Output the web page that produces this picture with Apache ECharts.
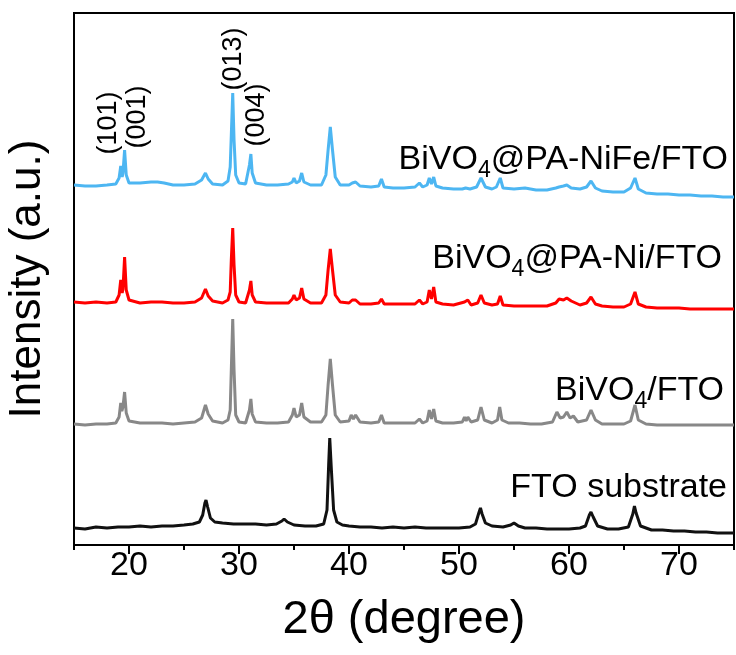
<!DOCTYPE html>
<html>
<head>
<meta charset="utf-8">
<script src="https://cdn.jsdelivr.net/npm/echarts@6/dist/echarts.min.js"></script>
<style>
  html,body{margin:0;padding:0;background:#fff;}
  #main{width:736px;height:655px;}
</style>
</head>
<body>
<div id="main"></div>
<script>
// 2θ / intensity pairs (a.u.), curves already offset as stacked in the figure
var fto = [[15,17],[16,16],[17,18],[18,17],[19,18],[20,18],[21,19],[22,18],[23,19],[24,19],[25,20],[25.8,21],[26.4,23],[26.7,30],[26.9,42],[27.0,45],[27.15,38],[27.4,27],[27.8,23],[28.5,22],[29.5,21],[30.5,21],[31.5,21],[32.5,20],[33.4,21],[33.9,24],[34.1,26],[34.4,23],[35,20],[36,19],[37,19],[37.7,21],[38.0,35],[38.15,80],[38.25,107],[38.4,75],[38.6,35],[38.9,23],[39.4,20],[40,19],[41,18],[42,18],[43,17],[44,18],[45,17],[46,18],[47,17],[48,17],[49,17],[50,17],[51,18],[51.5,21],[51.8,32],[51.95,37],[52.1,31],[52.4,22],[53,19],[54,18],[54.7,20],[55,22],[55.4,19],[56,17],[57,17],[58,16],[59,16],[60,16],[61,17],[61.5,19],[61.85,30],[62.0,33],[62.2,28],[62.6,19],[63.5,16],[64.5,16],[65.4,18],[65.8,31],[65.95,39],[66.1,32],[66.5,19],[67.5,15],[68.5,15],[69.5,14],[70.5,14],[71.5,13],[72.5,13],[73.5,12],[74.5,12],[75,12]];

var bvo = [[15,121],[16,120],[17,121],[18,121],[18.8,122],[19.1,128],[19.25,142],[19.35,134],[19.45,138],[19.6,153],[19.75,132],[20,124],[21,122],[22,122],[23,122],[24,121],[25,122],[26,123],[26.6,127],[26.95,140],[27.2,131],[27.6,124],[28.5,122],[29.0,125],[29.2,135],[29.3,175],[29.43,226],[29.55,175],[29.7,130],[30,123],[30.6,122],[30.95,135],[31.08,146],[31.2,131],[31.5,123],[32.5,122],[33.5,122],[34.5,123],[34.85,130],[35.0,137],[35.2,128],[35.5,130],[35.7,142],[35.9,128],[36.5,123],[37.5,123],[37.9,130],[38.1,160],[38.3,186],[38.5,160],[38.75,130],[39.2,123],[40,124],[40.2,130],[40.4,126],[40.6,130],[41,123],[42,122],[42.7,123],[42.95,130],[43.2,122],[44,122],[45,122],[46,122],[46.4,126],[46.7,122],[47.1,124],[47.3,135],[47.5,126],[47.7,136],[47.9,124],[48.5,122],[49.5,122],[50.3,123],[50.5,128],[50.65,124],[50.8,128],[51.1,123],[51.7,125],[52.0,138],[52.3,125],[53,122],[53.5,125],[53.7,138],[53.9,125],[54.5,122],[55.5,122],[56.5,121],[57.5,121],[58.5,123],[58.9,133],[59.2,127],[59.5,128],[59.8,133],[60.1,127],[60.4,129],[60.8,123],[61.6,125],[62.0,135],[62.4,125],[63,121],[64,121],[65,121],[65.6,124],[66.0,140],[66.3,125],[67,121],[68,120],[69,120],[70,120],[71,120],[72,120],[73,120],[74,120],[75,120]];

var bvoNi = [[15,243],[16,242],[17,243],[18,242],[18.8,243],[19.1,250],[19.25,265],[19.38,252],[19.45,256],[19.6,288],[19.75,255],[20,245],[21,242],[22,243],[23,243],[24,242],[25,242],[26,243],[26.6,247],[26.95,256],[27.2,249],[27.6,244],[28.5,242],[29.0,245],[29.2,253],[29.3,285],[29.43,317],[29.55,280],[29.7,250],[30,243],[30.6,242],[30.95,255],[31.08,264],[31.2,250],[31.5,243],[32.5,242],[33.5,242],[34.5,242],[34.85,246],[35.0,250],[35.2,245],[35.5,247],[35.7,257],[35.9,246],[36.5,242],[37.5,242],[37.9,250],[38.1,275],[38.3,296],[38.5,275],[38.75,250],[39.2,243],[40,242],[40.3,245],[40.6,245],[41,241],[42,241],[42.7,242],[42.95,246],[43.2,241],[44,241],[45,241],[46,241],[46.4,245],[46.7,241],[47.1,243],[47.3,255],[47.5,246],[47.7,258],[47.9,243],[48.5,241],[49.5,240],[50.5,243],[50.8,245],[51.1,240],[51.7,242],[52.0,250],[52.3,242],[53,240],[53.5,241],[53.75,249],[54,240],[55,239],[56,239],[57,239],[58,239],[58.8,242],[59.1,246],[59.5,245],[59.8,247],[60.2,244],[61,240],[61.6,242],[62.0,248],[62.4,241],[63,239],[64,238],[65,238],[65.6,241],[66.0,253],[66.3,241],[67,238],[68,237],[69,237],[70,237],[71,236],[72,236],[73,236],[74,236],[75,236]];

var bvoNiFe = [[15,360],[16,359],[17,359],[18,360],[18.8,361],[19.1,367],[19.25,379],[19.38,368],[19.45,372],[19.6,395],[19.75,370],[20,362],[21,362],[22,363],[22.6,363],[23.2,362],[24,360],[25,360],[26,361],[26.6,365],[26.95,372],[27.2,366],[27.6,361],[28.5,360],[29.0,364],[29.2,378],[29.3,410],[29.43,452],[29.55,405],[29.7,370],[30,362],[30.6,361],[30.95,380],[31.08,391],[31.2,372],[31.5,362],[32.5,360],[33.5,360],[34.5,361],[34.85,363],[35.0,367],[35.2,362],[35.5,364],[35.7,372],[35.9,363],[36.5,360],[37.5,360],[37.9,370],[38.1,395],[38.3,418],[38.5,395],[38.75,368],[39.2,360],[40,360],[40.3,362],[40.6,363],[41,359],[42,358],[42.7,359],[42.95,366],[43.2,358],[44,357],[45,357],[46,358],[46.4,362],[46.7,358],[47.1,360],[47.3,367],[47.5,361],[47.7,368],[47.9,359],[48.5,357],[49.5,356],[50.3,356],[50.6,357],[51,356],[51.6,358],[52.0,367],[52.4,358],[53,356],[53.4,358],[53.75,367],[54,357],[55,356],[56,357],[57,355],[58,355],[58.8,357],[59.1,358],[59.5,359],[59.8,360],[60.2,357],[61,356],[61.6,358],[62.0,364],[62.4,357],[63,354],[64,353],[65,353],[65.6,357],[66.0,367],[66.3,356],[67,352],[68,351],[69,351],[70,350],[71,350],[72,349],[73,349],[74,348],[75,348]];

var majorTicks = [20, 30, 40, 50, 60, 70];
var planes = ['(101)', '(001)', '(013)', '(004)'];

var myChart = echarts.init(document.getElementById('main'));
var font = 'Arial, "Liberation Sans", sans-serif';

function line(name, data, color){
  return {
    name: name, type: 'line', data: data,
    xAxisIndex: 0, yAxisIndex: 0,
    showSymbol: false, silent: true, animation: false,
    lineStyle: {color: color, width: 3}
  };
}

// label with subscript 4
function seriesLabel(main, tail, x, y){
  return {
    type: 'text', x: x, y: y, silent: true,
    style: {
      text: '{a|' + main + '}{s|4}{a|' + tail + '}',
      align: 'right', verticalAlign: 'middle',
      rich: {
        a: {fontSize: 34, fontFamily: font, color: '#000', lineHeight: 34},
        s: {fontSize: 23, fontFamily: font, color: '#000', lineHeight: 14, padding: [16, 0, 0, 0], verticalAlign: 'top'}
      }
    }
  };
}

function plane(txt, x, y){
  return {
    type: 'text', x: x, y: y, rotation: Math.PI / 2, silent: true,
    style: {text: txt, fontSize: 27, fontFamily: font, fill: '#000', align: 'center', verticalAlign: 'middle'}
  };
}

var option = {
  backgroundColor: '#fff',
  animation: false,
  grid: {left: 74, right: 2, top: 13, bottom: 110, outerBoundsMode: 'none', containLabel: false,
    show: true, borderColor: '#000', borderWidth: 2, backgroundColor: 'transparent'},
  xAxis: [{
    type: 'value', min: 15, max: 75,
    name: '2θ (degree)', nameLocation: 'middle', nameGap: 52,
    nameTextStyle: {fontSize: 47, fontFamily: font, color: '#000'},
    axisLine: {show: true, lineStyle: {color: '#000', width: 2}},
    axisTick: {show: true, customValues: majorTicks, length: 9, lineStyle: {color: '#000', width: 2}},
    axisLabel: {customValues: majorTicks, fontSize: 34, fontFamily: font, color: '#000', margin: 4},
    splitLine: {show: false}
  }, {
    type: 'value', min: 15, max: 75, interval: 10, position: 'bottom',
    axisLine: {show: false},
    axisTick: {show: true, length: 5, lineStyle: {color: '#000', width: 2}},
    axisLabel: {show: false},
    splitLine: {show: false}
  }],
  yAxis: {
    type: 'value', min: 0, max: 532,
    name: 'Intensity (a.u.)', nameLocation: 'middle', nameGap: 24,
    nameTextStyle: {fontSize: 44, fontFamily: font, color: '#000'},
    axisLine: {show: true, lineStyle: {color: '#000', width: 2}},
    axisTick: {show: false}, axisLabel: {show: false}, splitLine: {show: false}
  },
  series: [
    line('FTO substrate', fto, '#111111'),
    line('BiVO4/FTO', bvo, '#888888'),
    line('BiVO4@PA-Ni/FTO', bvoNi, '#ff0000'),
    line('BiVO4@PA-NiFe/FTO', bvoNiFe, '#4db6f2')
  ],
  graphic: [
    seriesLabel('BiVO', '@PA-NiFe/FTO', 728, 160),
    seriesLabel('BiVO', '@PA-Ni/FTO', 722, 259),
    seriesLabel('BiVO', '/FTO', 724, 391),
    {
      type: 'text', x: 727, y: 488, silent: true,
      style: {text: 'FTO substrate', fontSize: 34, fontFamily: font, fill: '#000', align: 'right', verticalAlign: 'middle'}
    },
    plane(planes[0], 109, 123),
    plane(planes[1], 138, 117),
    plane(planes[2], 234, 59),
    plane(planes[3], 257, 115)
  ]
};

myChart.setOption(option);
</script>
</body>
</html>
